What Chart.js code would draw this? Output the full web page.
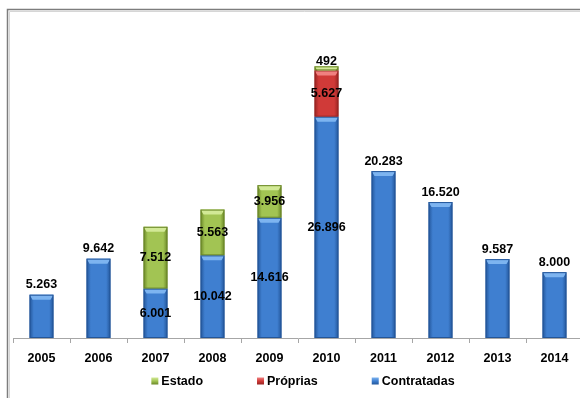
<!DOCTYPE html>
<html>
<head>
<meta charset="utf-8">
<script src="https://cdn.jsdelivr.net/npm/chart.js@4/dist/chart.umd.min.js"></script>
<style>
  html, body { margin: 0; padding: 0; background: #fff; overflow: hidden; }
</style>
</head>
<body>
<canvas id="canvas" width="600" height="398"></canvas>
<script>
// Anos e unidades por origem
var years = ['2005', '2006', '2007', '2008', '2009', '2010', '2011', '2012', '2013', '2014'];
var contratadas = [5263, 9642, 6001, 10042, 14616, 26896, 20283, 16520, 9587, 8000];
var proprias = [null, null, null, null, null, 5627, null, null, null, null];
var estado = [null, null, 7512, 5563, 3956, 492, null, null, null, null];

var FONT = '"Liberation Sans", Arial, sans-serif';
var FONT_SIZE = 12.5;
var BAR_PCT = 0.42;

// edge / middle / highlight tones for each series
var tones = {
    blue:  { edge: '#23569a', mid: '#3f7fd0', top: '#7db4f0' },
    red:   { edge: '#982422', mid: '#d03a38', top: '#f08080' },
    green: { edge: '#6a8727', mid: '#a2c453', top: '#d2e996' }
};

function fmt(v) {
    return String(v).replace(/\B(?=(\d{3})+(?!\d))/g, '.');
}

// horizontal gradient so each bar looks rounded
function shade(t) {
    return function(c) {
        var xs = c.chart.scales.x;
        if (c.dataIndex === undefined || !xs) return t.mid;
        var cx = xs.getPixelForValue(c.dataIndex);
        var half = xs.width / years.length * BAR_PCT / 2;
        if (!isFinite(cx) || !isFinite(half) || half <= 0) return t.mid;
        var g = c.chart.ctx.createLinearGradient(cx - half, 0, cx + half, 0);
        g.addColorStop(0, t.edge);
        g.addColorStop(0.18, t.mid);
        g.addColorStop(0.5, t.mid);
        g.addColorStop(0.82, t.mid);
        g.addColorStop(1, t.edge);
        return g;
    };
}

// outer frame
var frame = {
    id: 'frame',
    beforeDraw: function(chart) {
        var c = chart.ctx;
        c.save();
        c.strokeStyle = '#7d7d7d';
        c.lineWidth = 1.5;
        c.beginPath();
        c.moveTo(7.5, chart.height);
        c.lineTo(7.5, 9.5);
        c.lineTo(chart.width, 9.5);
        c.stroke();
        c.strokeStyle = '#d6d6d6';
        c.lineWidth = 1;
        c.beginPath();
        c.moveTo(9.5, chart.height);
        c.lineTo(9.5, 11.5);
        c.lineTo(chart.width, 11.5);
        c.stroke();
        c.restore();
    }
};

// lighter bevel on top of each segment
var bevel = {
    id: 'bevel',
    afterDatasetsDraw: function(chart) {
        var c = chart.ctx;
        c.save();
        chart.data.datasets.forEach(function(ds, di) {
            var meta = chart.getDatasetMeta(di);
            meta.data.forEach(function(bar, i) {
                if (ds.data[i] == null) return;
                var l = bar.x - bar.width / 2, r = bar.x + bar.width / 2;
                var h = Math.min(5, bar.base - bar.y);
                c.fillStyle = ds.tone.top;
                c.beginPath();
                c.moveTo(l, bar.y);
                c.lineTo(r, bar.y);
                c.lineTo(r - 3, bar.y + h);
                c.lineTo(l + 3, bar.y + h);
                c.closePath();
                c.fill();
                c.strokeStyle = ds.tone.edge;
                c.lineWidth = 1;
                c.strokeRect(l + 0.5, bar.y + 0.5, bar.width - 1, bar.base - bar.y - 1);
            });
        });
        c.restore();
    }
};

// value labels: centred inside stacked segments, above single bars
var valueLabels = {
    id: 'valueLabels',
    afterDatasetsDraw: function(chart) {
        var c = chart.ctx;
        c.save();
        c.font = 'bold ' + FONT_SIZE + 'px ' + FONT;
        c.fillStyle = '#000';
        c.textAlign = 'center';
        c.textBaseline = 'middle';
        chart.data.datasets.forEach(function(ds, di) {
            var meta = chart.getDatasetMeta(di);
            meta.data.forEach(function(bar, i) {
                var v = ds.data[i];
                if (v == null) return;
                var parts = chart.data.datasets.filter(function(d) { return d.data[i] != null; }).length;
                var h = bar.base - bar.y;
                var y;
                if (parts === 1) y = bar.y - 10;
                else if (h < 16) y = bar.y - 5;
                else y = bar.y + h / 2;
                c.fillText(fmt(v), bar.x, y);
            });
        });
        c.restore();
    }
};

// legend row under the axis
var legendRow = {
    id: 'legendRow',
    afterDraw: function(chart) {
        var c = chart.ctx;
        var items = chart.data.datasets.slice().reverse();
        var box = 7, gapText = 3, gapItem = 54, y = 381;
        c.save();
        c.font = 'bold ' + FONT_SIZE + 'px ' + FONT;
        c.textBaseline = 'middle';
        c.textAlign = 'left';
        var widths = items.map(function(ds) { return box + gapText + c.measureText(ds.label).width; });
        var total = widths.reduce(function(a, b) { return a + b; }, 0) + gapItem * (items.length - 1);
        var x = 303 - total / 2;
        items.forEach(function(ds, k) {
            var g = c.createLinearGradient(0, y - box / 2, 0, y + box / 2);
            g.addColorStop(0, ds.tone.top);
            g.addColorStop(0.5, ds.tone.mid);
            g.addColorStop(1, ds.tone.edge);
            c.fillStyle = g;
            c.fillRect(x, y - box / 2, box, box);
            c.fillStyle = '#000';
            c.fillText(ds.label, x + box + gapText, y + 1);
            x += widths[k] + gapItem;
        });
        c.restore();
    }
};

var datasets = [
    { label: 'Contratadas', data: contratadas, tone: tones.blue, backgroundColor: shade(tones.blue) },
    { label: 'Próprias', data: proprias, tone: tones.red, backgroundColor: shade(tones.red) },
    { label: 'Estado', data: estado, tone: tones.green, backgroundColor: shade(tones.green) }
];

var chart = new Chart(document.getElementById('canvas').getContext('2d'), {
    type: 'bar',
    data: { labels: years, datasets: datasets },
    options: {
        responsive: false,
        animation: false,
        devicePixelRatio: 1,
        datasets: { bar: { categoryPercentage: 1, barPercentage: BAR_PCT, borderWidth: 0 } },
        layout: { padding: { left: 13, right: 17, top: 50, bottom: 24 } },
        plugins: { legend: { display: false }, tooltip: { enabled: false } },
        scales: {
            x: {
                stacked: true,
                border: { color: '#a6a6a6', width: 1 },
                grid: { offset: true, drawOnChartArea: false, drawTicks: true, tickLength: 5, color: '#a6a6a6' },
                ticks: { color: '#000', padding: 8, font: { family: FONT, size: FONT_SIZE, weight: 'bold' } }
            },
            y: { stacked: true, display: false, min: 0, max: 35000 }
        }
    },
    plugins: [frame, bevel, valueLabels, legendRow]
});
</script>
</body>
</html>
